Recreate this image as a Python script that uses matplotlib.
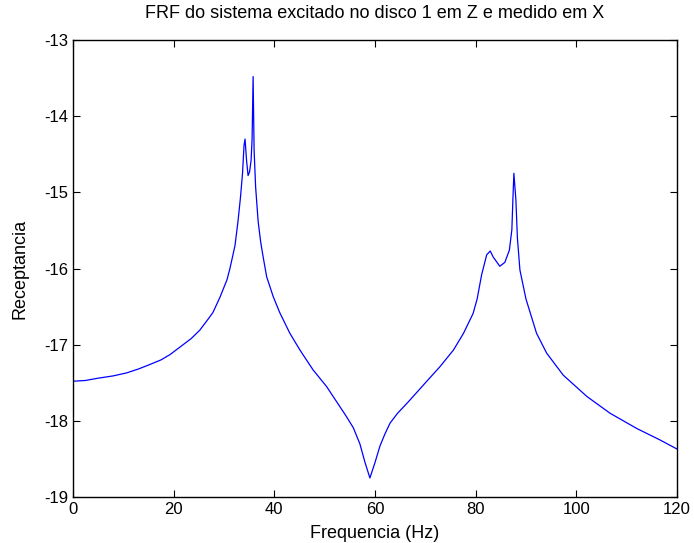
import numpy as np
import matplotlib
matplotlib.use("Agg")
import matplotlib.pyplot as plt

# FRF curve
freq = [0, 2.5, 5, 8, 10.7, 13, 15.3, 17.5, 19.3, 21.9, 23.5, 25.2, 26.8, 27.8,
        29.2, 30.6, 31.2, 32.2, 32.8, 33.3, 33.7, 34.0, 34.2, 34.5, 34.8, 35.1,
        35.4, 35.6, 35.8, 36.0, 36.3, 36.8, 37.3, 37.8, 38.5, 39.8, 41.1, 43.1,
        45.1, 47.7, 50.4, 51.7, 53.0, 54.3, 55.7, 57.0, 58.0, 59.0, 60.0, 61.0,
        62.0, 63.0, 64.5, 66.5, 70.3, 72.9, 75.6, 77.6, 79.5, 80.3, 81.2, 82.2,
        82.9, 83.5, 84.8, 85.8, 86.7, 87.2, 87.4, 87.6, 88.0, 88.3, 88.8, 90.0,
        92.1, 94.1, 97.4, 102.1, 106.7, 112.0, 116.6, 120]
recept = [-17.48, -17.47, -17.44, -17.41, -17.37, -17.32, -17.26, -17.20, -17.13,
          -17.00, -16.92, -16.81, -16.67, -16.58, -16.38, -16.15, -16.00, -15.70,
          -15.38, -15.06, -14.75, -14.38, -14.30, -14.58, -14.78, -14.73, -14.58,
          -14.30, -13.48, -14.45, -14.93, -15.38, -15.65, -15.85, -16.11, -16.37,
          -16.58, -16.85, -17.07, -17.33, -17.55, -17.68, -17.81, -17.94, -18.09,
          -18.30, -18.54, -18.75, -18.55, -18.33, -18.17, -18.03, -17.90, -17.76,
          -17.48, -17.29, -17.07, -16.85, -16.59, -16.40, -16.08, -15.82, -15.77,
          -15.85, -15.97, -15.92, -15.76, -15.49, -15.10, -14.75, -15.10, -15.60,
          -16.02, -16.40, -16.85, -17.11, -17.40, -17.68, -17.90, -18.10, -18.25,
          -18.37]

xticks = [0, 20, 40, 60, 80, 100, 120]
yticks = [-19, -18, -17, -16, -15, -14, -13]

plt.rcParams['font.family'] = ['Liberation Sans', 'DejaVu Sans']
plt.rcParams['font.size'] = 12

fig = plt.figure(figsize=(6.94, 5.43), dpi=100)
ax = fig.add_axes([0.105, 0.0847, 0.8705, 0.8416])
ax.plot(freq, recept, color='#0000ff', lw=0.9)

ax.set_xlim(0, 120)
ax.set_ylim(-19, -13)
ax.set_xticks(xticks)
ax.set_yticks(yticks)
ax.set_yticklabels([str(t) for t in yticks])
ax.tick_params(direction='in', top=True, right=True, length=5, width=0.8)
for s in ax.spines.values():
    s.set_linewidth(1.0)

ax.set_title("FRF do sistema excitado no disco 1 em Z e medido em X", fontsize=13, pad=16)
ax.set_xlabel("Frequencia (Hz)", fontsize=13, labelpad=6)
ax.set_ylabel("Receptancia", fontsize=13, labelpad=11)

fig.savefig("out.png", dpi=100)
